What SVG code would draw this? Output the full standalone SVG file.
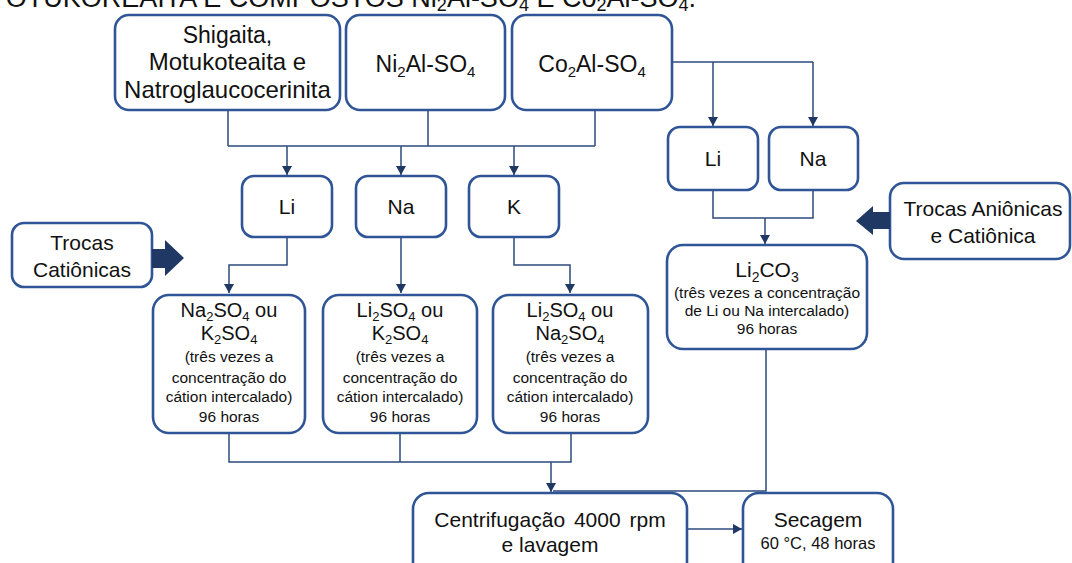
<svg xmlns="http://www.w3.org/2000/svg" width="1072" height="563" viewBox="0 0 1072 563">
<style>
text{font-family:"Liberation Sans",Arial,sans-serif;fill:#111;text-anchor:middle}
.b{font-size:21px}
.m{font-size:20px}
.h{font-size:23px}
.s{font-size:15.5px}
.t{font-size:27px;text-anchor:end}
.box{fill:#fff;stroke:#2f5597;stroke-width:2.6}
.c{fill:none;stroke:#2e4a7d;stroke-width:1.5}
.blk{fill:#1f3864}
</style>
<defs>
<marker id="ah" markerWidth="10" markerHeight="10" refX="9" refY="5" orient="auto" markerUnits="userSpaceOnUse">
<path d="M0,0 L9,5 L0,10 Z" fill="#1f3864"/>
</marker>
</defs>
<rect width="1072" height="563" fill="#fff"/>
<text class="t" x="696" y="7">OTUKOREAITA E COMPOSTOS Ni<tspan dy="4" font-size="18">2</tspan><tspan dy="-4">Al-SO</tspan><tspan dy="4" font-size="18">4</tspan><tspan dy="-4"> E Co</tspan><tspan dy="4" font-size="18">2</tspan><tspan dy="-4">Al-SO</tspan><tspan dy="4" font-size="18">4</tspan><tspan dy="-4">.</tspan></text>

<g id="connectors">
<path class="c" d="M228 110 V146 M428 110 V146 M595 110 V146 M228 146 H595"/>
<path class="c" d="M287 146 V175" marker-end="url(#ah)"/>
<path class="c" d="M401 146 V175" marker-end="url(#ah)"/>
<path class="c" d="M514 146 V175" marker-end="url(#ah)"/>
<path class="c" d="M672 62 H813"/>
<path class="c" d="M713 62 V126" marker-end="url(#ah)"/>
<path class="c" d="M813 62 V126" marker-end="url(#ah)"/>
<path class="c" d="M713 190 V218 H813 V190"/>
<path class="c" d="M765 218 V244" marker-end="url(#ah)"/>
<path class="c" d="M287 237 V265 H229 V293" marker-end="url(#ah)"/>
<path class="c" d="M401 237 V293" marker-end="url(#ah)"/>
<path class="c" d="M514 237 V265 H570 V293" marker-end="url(#ah)"/>
<path class="c" d="M229 433 V462 H571 V433 M400 433 V462"/>
<path class="c" d="M551 462 V492" marker-end="url(#ah)"/>
<path class="c" d="M766 349 V491 H553"/>
<path class="c" d="M687 529 H742" marker-end="url(#ah)"/>
</g>

<g id="n-minerais">
<rect class="box" x="115" y="15" width="225" height="95" rx="14"/>
<text class="h" x="227.5" y="43" font-size="24">Shigaita,</text>
<text class="h" x="227.5" y="70" style="font-size:24px">Motukoteaita e</text>
<text class="h" x="227.5" y="98" style="font-size:24px">Natroglaucocerinita</text>
</g>
<g id="n-ni">
<rect class="box" x="346" y="15" width="159" height="95" rx="14"/>
<text class="h" x="425.5" y="72">Ni<tspan dy="5" font-size="15">2</tspan><tspan dy="-5">Al-SO</tspan><tspan dy="5" font-size="15">4</tspan></text>
</g>
<g id="n-co">
<rect class="box" x="512" y="15" width="160" height="95" rx="14"/>
<text class="h" x="592" y="72">Co<tspan dy="5" font-size="15">2</tspan><tspan dy="-5">Al-SO</tspan><tspan dy="5" font-size="15">4</tspan></text>
</g>

<g id="n-li1">
<rect class="box" x="242" y="176" width="90" height="61" rx="12"/>
<text class="b" x="287" y="214">Li</text>
</g>
<g id="n-na1">
<rect class="box" x="356" y="176" width="90" height="61" rx="12"/>
<text class="b" x="401" y="214">Na</text>
</g>
<g id="n-k1">
<rect class="box" x="469" y="176" width="90" height="61" rx="12"/>
<text class="b" x="514" y="214">K</text>
</g>

<g id="n-trocas-cat">
<rect class="box" x="12" y="223" width="140" height="64" rx="12"/>
<text class="b" x="82" y="250">Trocas</text>
<text class="b" x="82" y="277">Catiônicas</text>
<polygon class="blk" points="152,249 165,249 165,240 184,258 165,276 165,268 152,268"/>
</g>

<g id="n-s1">
<rect class="box" x="153" y="295" width="152" height="138" rx="16"/>
<text class="m" x="229" y="317">Na<tspan dy="4" font-size="13">2</tspan><tspan dy="-4">SO</tspan><tspan dy="4" font-size="13">4</tspan><tspan dy="-4"> ou</tspan></text>
<text class="m" x="229" y="340">K<tspan dy="4" font-size="13">2</tspan><tspan dy="-4">SO</tspan><tspan dy="4" font-size="13">4</tspan></text>
<text class="s" x="229" y="362">(três vezes a</text>
<text class="s" x="229" y="383">concentração do</text>
<text class="s" x="229" y="402">cátion intercalado)</text>
<text class="s" x="229" y="422">96 horas</text>
</g>
<g id="n-s2">
<rect class="box" x="323" y="295" width="154" height="138" rx="16"/>
<text class="m" x="400" y="317">Li<tspan dy="4" font-size="13">2</tspan><tspan dy="-4">SO</tspan><tspan dy="4" font-size="13">4</tspan><tspan dy="-4"> ou</tspan></text>
<text class="m" x="400" y="340">K<tspan dy="4" font-size="13">2</tspan><tspan dy="-4">SO</tspan><tspan dy="4" font-size="13">4</tspan></text>
<text class="s" x="400" y="362">(três vezes a</text>
<text class="s" x="400" y="383">concentração do</text>
<text class="s" x="400" y="402">cátion intercalado)</text>
<text class="s" x="400" y="422">96 horas</text>
</g>
<g id="n-s3">
<rect class="box" x="493" y="295" width="155" height="138" rx="16"/>
<text class="m" x="570" y="317">Li<tspan dy="4" font-size="13">2</tspan><tspan dy="-4">SO</tspan><tspan dy="4" font-size="13">4</tspan><tspan dy="-4"> ou</tspan></text>
<text class="m" x="570" y="340">Na<tspan dy="4" font-size="13">2</tspan><tspan dy="-4">SO</tspan><tspan dy="4" font-size="13">4</tspan></text>
<text class="s" x="570" y="362">(três vezes a</text>
<text class="s" x="570" y="383">concentração do</text>
<text class="s" x="570" y="402">cátion intercalado)</text>
<text class="s" x="570" y="422">96 horas</text>
</g>

<g id="n-li2">
<rect class="box" x="668" y="127" width="90" height="63" rx="12"/>
<text class="b" x="713" y="166">Li</text>
</g>
<g id="n-na2">
<rect class="box" x="769" y="127" width="89" height="63" rx="12"/>
<text class="b" x="813" y="166">Na</text>
</g>

<g id="n-trocas-an">
<rect class="box" x="890" y="183" width="180" height="76" rx="14"/>
<text class="b" x="983" y="216">Trocas Aniônicas</text>
<text class="b" x="983" y="243">e Catiônica</text>
<polygon class="blk" points="890,212 873,212 873,206 856,221 873,235 873,229 890,229"/>
</g>

<g id="n-li2co3">
<rect class="box" x="667" y="245" width="200" height="104" rx="16"/>
<text class="b" x="767" y="277">Li<tspan dy="5" font-size="14">2</tspan><tspan dy="-5">CO</tspan><tspan dy="5" font-size="14">3</tspan></text>
<text class="s" x="767" y="298">(três vezes a concentração</text>
<text class="s" x="767" y="316">de Li ou Na intercalado)</text>
<text class="s" x="767" y="334">96 horas</text>
</g>

<g id="n-centrif">
<rect class="box" x="413" y="493" width="274" height="90" rx="16"/>
<text class="b" x="550" y="527" word-spacing="3">Centrifugação 4000 rpm</text>
<text class="b" x="550" y="552">e lavagem</text>
</g>
<g id="n-secagem">
<rect class="box" x="743" y="493" width="150" height="90" rx="16"/>
<text class="b" x="818" y="527">Secagem</text>
<text class="s" x="818" y="549" style="font-size:16.5px">60 °C, 48 horas</text>
</g>
</svg>
